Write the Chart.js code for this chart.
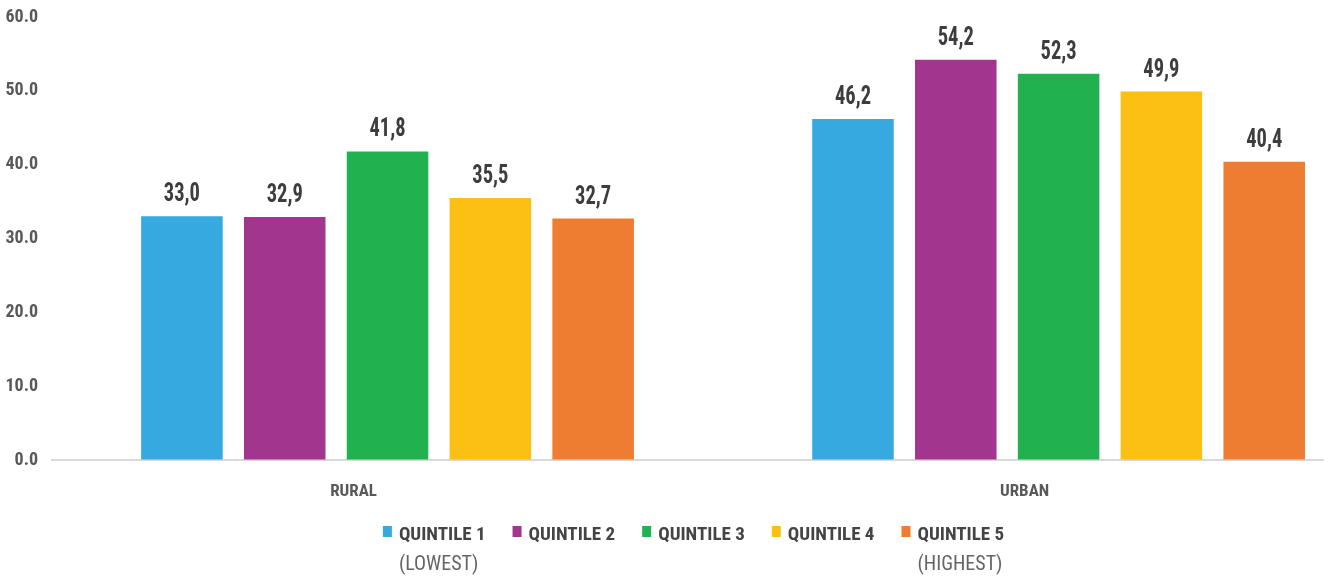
<!DOCTYPE html>
<html><head><meta charset="utf-8">
<script src="https://cdn.jsdelivr.net/npm/chart.js@4.4.1/dist/chart.umd.min.js"></script>
<style>html,body{margin:0;padding:0;background:#fff;overflow:hidden}#wrap{position:relative;width:1328px;height:576px}</style>
</head><body><div id="wrap"><canvas id="c" width="1328" height="576"></canvas></div>
<script>
const categories = ['RURAL', 'URBAN'];
const seriesNames = ['QUINTILE 1', 'QUINTILE 2', 'QUINTILE 3', 'QUINTILE 4', 'QUINTILE 5'];
const seriesNotes = ['(LOWEST)', '', '', '', '(HIGHEST)'];
const quintile1 = [33.0, 46.2];
const quintile2 = [32.9, 54.2];
const quintile3 = [41.8, 52.3];
const quintile4 = [35.5, 49.9];
const quintile5 = [32.7, 40.4];
const yTickValues = [0, 10, 20, 30, 40, 50, 60];
const seriesColors = ['#36A9E0', '#A2368F', '#21B24F', '#FBC013', '#EE7D31'];

const FONT = "'Liberation Sans Narrow', 'Roboto Condensed', 'DejaVu Sans Condensed', 'Liberation Sans', sans-serif";
const allSeries = [quintile1, quintile2, quintile3, quintile4, quintile5];

const datasets = allSeries.map((vals, i) => ({
  label: seriesNames[i],
  note: seriesNotes[i],
  data: vals.map((v, j) => ({ x: j, y: v })),
  backgroundColor: seriesColors[i],
  borderWidth: 0,
  categoryPercentage: 0.766,
  barPercentage: 0.793
}));

const valueLabels = {
  id: 'valueLabels',
  afterDatasetsDraw(chart) {
    const ctx = chart.ctx;
    chart.data.datasets.forEach((ds, i) => {
      const meta = chart.getDatasetMeta(i);
      meta.data.forEach((el, j) => {
        const v = ds.data[j].y;
        ctx.save();
        ctx.font = "bold 25px " + FONT;
        ctx.fillStyle = '#3d3d3d';
        ctx.textAlign = 'center';
        ctx.textBaseline = 'alphabetic';
        ctx.translate(el.x, el.y - 15);
        ctx.scale(0.82, 1);
        ctx.fillText(v.toFixed(1).replace('.', ','), 0, 0);
        ctx.restore();
      });
    });
  }
};

const customLegend = {
  id: 'customLegend',
  afterDraw(chart) {
    const ctx = chart.ctx;
    ctx.save();
    const boxW = 9, boxGap = 7, itemGap = 27;
    ctx.font = "bold 19px " + FONT;
    const widths = chart.data.datasets.map(ds => ctx.measureText(ds.label).width);
    const total = widths.reduce((a, w) => a + boxW + boxGap + w, 0) + itemGap * (widths.length - 1);
    const center = (chart.chartArea.left + chart.chartArea.right) / 2 + 6;
    let x = center - total / 2;
    const baseY = 540;
    chart.data.datasets.forEach((ds, i) => {
      ctx.fillStyle = ds.backgroundColor;
      ctx.fillRect(x, baseY - 14, boxW, 11);
      const tx = x + boxW + boxGap;
      ctx.font = "bold 19px " + FONT;
      ctx.fillStyle = '#444444';
      ctx.textAlign = 'left';
      ctx.textBaseline = 'alphabetic';
      ctx.fillText(ds.label, tx, baseY);
      if (ds.note) {
        ctx.font = "20px " + FONT;
        ctx.fillStyle = '#666666';
        ctx.fillText(ds.note, tx, baseY + 30);
      }
      x = tx + widths[i] + itemGap;
    });
    ctx.restore();
  }
};

new Chart(document.getElementById('c'), {
  type: 'bar',
  data: { datasets },
  options: {
    responsive: false,
    animation: false,
    devicePixelRatio: 1,
    layout: { padding: { top: 17, right: 5, left: 0, bottom: 0 } },
    plugins: { legend: { display: false }, tooltip: { enabled: false } },
    scales: {
      x: {
        type: 'linear',
        min: -0.5,
        max: 1.394,
        offset: false,
        afterBuildTicks: (s) => { s.ticks = categories.map((c, i) => ({ value: i })); },
        afterFit: (s) => { s.height = 116; },
        grid: { display: false, drawTicks: false },
        border: { display: true, color: '#d9d9d9', width: 2 },
        ticks: {
          callback: (v) => categories[v],
          font: { family: FONT, size: 17, weight: 'bold' },
          color: '#595959',
          padding: 22,
          labelOffset: -34,
          maxRotation: 0
        }
      },
      y: {
        min: 0,
        max: 60,
        afterBuildTicks: (s) => { s.ticks = yTickValues.map(v => ({ value: v })); },
        afterFit: (s) => { s.width = 52; },
        grid: { display: true, drawOnChartArea: false, drawTicks: true, tickLength: 14, tickColor: 'rgba(0,0,0,0)' },
        border: { display: false },
        ticks: {
          callback: (v) => Number(v).toFixed(1),
          font: { family: FONT, size: 18, weight: 'bold' },
          color: '#595959',
          padding: 0
        }
      }
    }
  },
  plugins: [valueLabels, customLegend]
});
</script></body></html>
